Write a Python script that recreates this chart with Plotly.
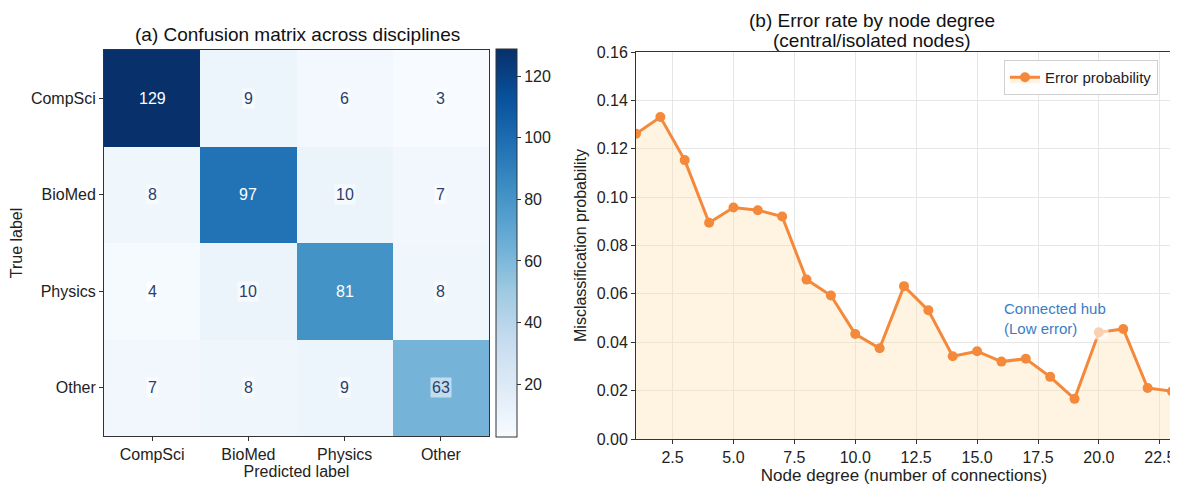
import plotly.graph_objects as go

classes = ["CompSci", "BioMed", "Physics", "Other"]
conf = [
    [129, 9, 6, 3],
    [8, 97, 10, 7],
    [4, 10, 81, 8],
    [7, 8, 9, 63],
]

degree = list(range(1, 24))
err_prob = [0.1262, 0.1331, 0.1153, 0.0894, 0.0957, 0.0946, 0.0920, 0.0659,
            0.0593, 0.0434, 0.0375, 0.0632, 0.0532, 0.0342, 0.0363, 0.0320,
            0.0332, 0.0257, 0.0166, 0.0441, 0.0455, 0.0211, 0.0197]

FONT = "Liberation Sans, Arial, sans-serif"
DARK = "#333333"
ORANGE = "#f4893b"
W, H = 1178, 484
OFF = 8  # page body margin


def px(x):
    return (x - OFF) / W


def py(y):
    return 1 - (y - OFF) / H


fig = go.Figure()

fig.add_trace(go.Heatmap(
    z=conf, x=classes, y=classes, colorscale="Blues", zmin=3, zmax=129,
    showscale=True, xaxis="x", yaxis="y",
    colorbar=dict(x=px(496), xanchor="left", xpad=0, ypad=0, thickness=21, lenmode="pixels",
                  len=388, y=py(242.5), yanchor="middle", outlinewidth=1,
                  outlinecolor=DARK, ticks="outside", ticklen=4, tickcolor=DARK,
                  tickvals=[20, 40, 60, 80, 100, 120],
                  tickfont=dict(size=16, color="#222")),
    hoverinfo="skip",
))

fig.add_trace(go.Scatter(
    x=degree, y=err_prob, mode="lines+markers", name="Error probability",
    line=dict(color=ORANGE, width=3), marker=dict(color=ORANGE, size=10),
    fill="tozeroy", fillcolor="rgba(252,224,170,0.35)",
    xaxis="x2", yaxis="y2",
))

annotations = []
for i, row in enumerate(conf):
    for j, v in enumerate(row):
        dark = v > 70
        annotations.append(dict(
            x=classes[j], y=classes[i], xref="x", yref="y", text=str(v),
            showarrow=False, font=dict(size=16, color="white" if dark else "#2a3f6f", family=FONT),
            bgcolor=None if dark else "rgba(255,255,255,0.55)", borderpad=1,
        ))

annotations.append(dict(
    x=16, y=0.050, xref="x2", yref="y2", text="Connected hub<br>(Low error)",
    showarrow=False, xanchor="left", yanchor="middle", align="left",
    font=dict(size=15, color="#3a7dc4", family=FONT),
    bgcolor="rgba(255,255,255,0.6)", borderpad=2,
))

titles = [
    ("(a) Confusion matrix across disciplines", 297, 35),
    ("(b) Error rate by node degree", 872, 20),
    ("(central/isolated nodes)", 872, 41),
]
for txt, tx, ty in titles:
    annotations.append(dict(
        x=px(tx), y=py(ty), xref="paper", yref="paper", xanchor="center", yanchor="middle",
        text=txt, showarrow=False, font=dict(size=19, color="#111", family=FONT),
    ))

axis_common = dict(showline=True, mirror=True, linecolor=DARK, linewidth=1,
                   ticks="outside", ticklen=4, tickcolor=DARK, automargin=False,
                   tickfont=dict(size=16, color="#222"))

fig.update_layout(
    width=W, height=H,
    margin=dict(l=0, r=0, t=0, b=0),
    paper_bgcolor="white", plot_bgcolor="white",
    font=dict(family=FONT, size=16, color="#222"),
    annotations=annotations,
    showlegend=True,
    legend=dict(x=px(1158), xanchor="right", y=py(60), yanchor="top",
                bordercolor="#d0d0d0", borderwidth=1, bgcolor="rgba(255,255,255,0.9)",
                font=dict(size=15)),
    xaxis=dict(domain=[px(104), px(489)], anchor="y",
               title=dict(text="Predicted label", font=dict(size=16), standoff=0),
               showgrid=False, **axis_common),
    yaxis=dict(domain=[py(436), py(50)], anchor="x", autorange="reversed",
               title=dict(text="True label", font=dict(size=16), standoff=8),
               showgrid=False, **axis_common),
    xaxis2=dict(domain=[px(636), px(1172)], anchor="y2", range=[1, 23],
                tickvals=[2.5, 5, 7.5, 10, 12.5, 15, 17.5, 20, 22.5], tickformat=".1f",
                title=dict(text="Node degree (number of connections)", font=dict(size=17), standoff=2),
                showgrid=True, gridcolor="#e6e6e6", zeroline=False, **axis_common),
    yaxis2=dict(domain=[py(439), py(52)], anchor="x2", range=[0, 0.16],
                dtick=0.02, tickformat=".2f",
                title=dict(text="Misclassification probability", font=dict(size=16), standoff=6),
                showgrid=True, gridcolor="#e6e6e6", zeroline=False, **axis_common),
)

fig.write_html("out.html")
